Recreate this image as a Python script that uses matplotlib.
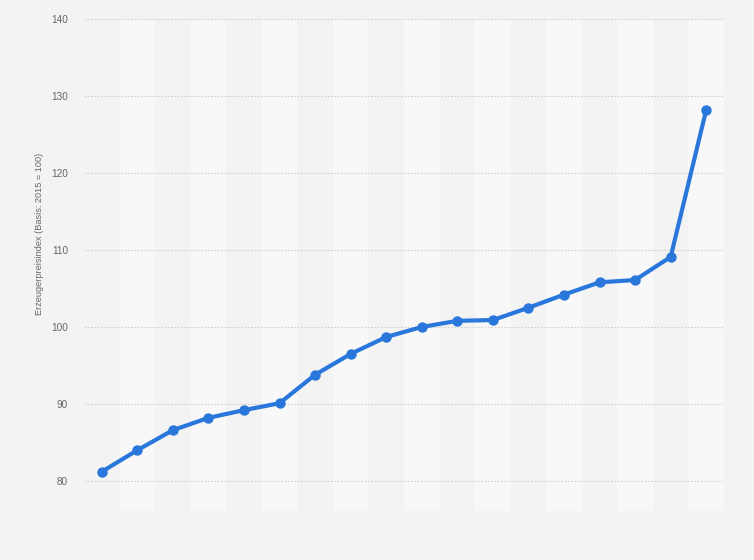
import matplotlib
matplotlib.use("Agg")
import matplotlib.pyplot as plt
import numpy as np

plt.rcParams['font.family'] = ['Liberation Sans', 'DejaVu Sans']

values = [81.2, 84.0, 86.6, 88.2, 89.2, 90.1, 93.8, 96.5, 98.7, 100.0,
          100.8, 100.9, 102.5, 104.2, 105.8, 106.1, 109.1, 128.2]
yticks = [80, 90, 100, 110, 120, 130, 140]
ylabel = "Erzeugerpreisindex (Basis: 2015 = 100)"

W, H = 754, 560
fig = plt.figure(figsize=(W / 100, H / 100), dpi=100, facecolor="#f3f3f3")
left, right, top, bottom = 84, 724, 19, 511
ax = fig.add_axes([left / W, 1 - bottom / H, (right - left) / W, (bottom - top) / H])
ax.set_facecolor("#f3f3f3")

n = len(values)
x = np.arange(n)
for i in range(n):
    if i % 2 == 1:
        ax.axvspan(i - 0.5, i + 0.5, color="#f8f8f8", zorder=0, lw=0)

ax.set_xlim(-0.5, n - 0.5)
ax.set_ylim(76.1, 140)
ax.set_yticks(yticks)
ax.set_yticklabels([str(t) for t in yticks], color="#666666", fontsize=7.2)
ax.set_xticks([])
for t in yticks:
    ax.axhline(t, color="#cfcfcf", lw=0.8, ls=(0, (1.5, 1.5)), zorder=1)

ax.plot(x, values, color="#2a77dc", lw=3, marker="o", ms=6.5, zorder=3,
        solid_capstyle="round", solid_joinstyle="round")

for s in ax.spines.values():
    s.set_visible(False)
ax.tick_params(axis="y", length=0, pad=11.5)
ax.set_ylabel(ylabel, color="#666666", fontsize=6.6)
ax.yaxis.set_label_coords(-40 / 640, (511 - 233.5) / 492)

fig.savefig("out.png", dpi=100, facecolor=fig.get_facecolor())
